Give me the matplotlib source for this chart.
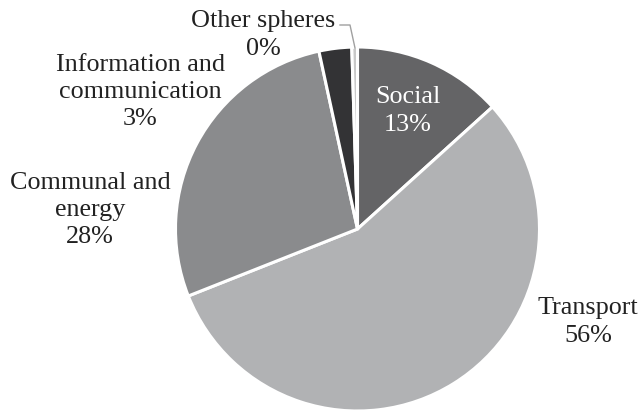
import matplotlib
matplotlib.use("Agg")
import matplotlib.pyplot as plt

# Shares of investment by sphere (percent)
categories = ["Social", "Transport", "Communal and\nenergy",
              "Information and\ncommunication", "Other spheres"]
shares = [13.3, 55.7, 27.6, 2.9, 0.5]
pct_labels = ["13%", "56%", "28%", "3%", "0%"]
colors = ["#646466", "#b1b2b4", "#8a8b8d", "#333335", "#c8c8c8"]

W, H = 640, 412
fig = plt.figure(figsize=(W / 100, H / 100), dpi=100, facecolor="white")

# Pie axes: centre (357, 229) px, radius 182 px
cx, cy, r = 357.5, 229, 182
ax = fig.add_axes([(cx - r) / W, (H - cy - r) / H, 2 * r / W, 2 * r / H])
ax.pie(shares, colors=colors, startangle=90, counterclock=False,
       wedgeprops=dict(edgecolor="white", linewidth=2.2))
ax.set_aspect("equal")
ax.set_xlim(-1, 1)
ax.set_ylim(-1, 1)
ax.axis("off")

font = dict(family="Liberation Serif", fontsize=18.8, ha="center",
            va="center", linespacing=1.32)

# Label block centres in pixel coordinates (x, y from top)
label_pos = [(408, 111), (588, 322), (90, 210), (140, 92), (263, 35)]
label_col = ["white", "#222222", "#222222", "#222222", "#222222"]
for name, pct, (px, py), col in zip(categories, pct_labels, label_pos, label_col):
    fig.text(px / W, 1 - py / H, f"{name}\n{pct}", color=col, **font)

# Leader line for the thin "Other spheres" wedge
lx = [355, 350, 340]
ly = [48, 25, 25]
fig.add_artist(plt.Line2D([x / W for x in lx], [1 - y / H for y in ly],
                          color="#a0a0a0", linewidth=1.0))

fig.savefig("out.png", dpi=100, facecolor="white")
